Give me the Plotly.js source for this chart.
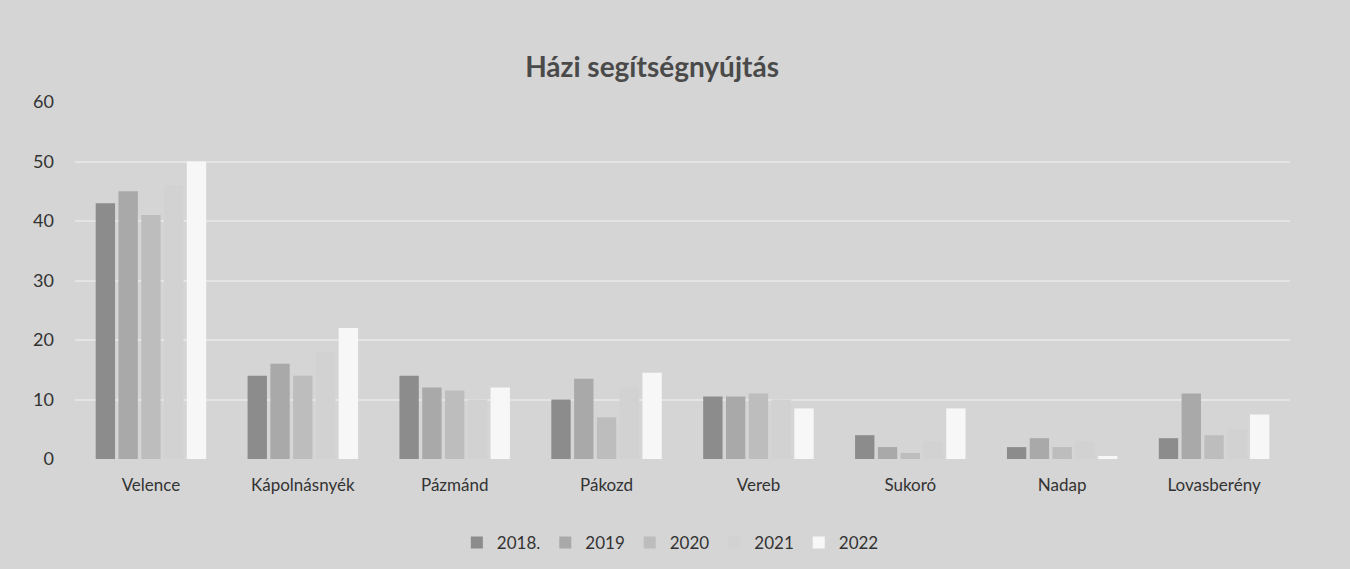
<!DOCTYPE html>
<html>
<head>
<meta charset="utf-8">
<script src="https://cdn.plot.ly/plotly-3.0.1.min.js"></script>
<style>html,body{margin:0;padding:0;background:#d5d5d5;}#chart{width:1350px;height:569px;}</style>
</head>
<body>
<div id="chart"></div>
<script>
const categories = ["Velence", "Kápolnásnyék", "Pázmánd", "Pákozd", "Vereb", "Sukoró", "Nadap", "Lovasberény"];
const seriesNames = ["2018.", "2019", "2020", "2021", "2022"];
const v2018 = [43, 14, 14, 10, 10.5, 4, 2, 3.5];
const v2019 = [45, 16, 12, 13.5, 10.5, 2, 3.5, 11];
const v2020 = [41, 14, 11.5, 7, 11, 1, 2, 4];
const v2021 = [46, 18, 10, 12, 10, 3, 3, 5];
const v2022 = [50, 22, 12, 14.5, 8.5, 8.5, 0.5, 7.5];
const colors = ["#8c8c8c", "#a9a9a9", "#bdbdbd", "#d2d2d2", "#f7f7f7"];

const values = [v2018, v2019, v2020, v2021, v2022];
const traces = values.map((v, i) => ({
  type: "bar",
  name: seriesNames[i],
  x: categories,
  y: v,
  marker: {color: colors[i]},
  hoverinfo: "x+y+name"
}));

const layout = {
  width: 1350,
  height: 569,
  paper_bgcolor: "#d5d5d5",
  plot_bgcolor: "#d5d5d5",
  margin: {l: 75, r: 60, t: 102, b: 110},
  barmode: "group",
  bargap: 0.25,
  bargroupgap: 0.15,
  font: {family: "Lato, 'Open Sans', sans-serif", color: "#3a3a3a"},
  title: {
    text: "<b>Házi segítségnyújtás</b>",
    font: {size: 28, color: "#4a4a4a", family: "Lato, 'Open Sans', sans-serif"},
    x: 0.483, xanchor: "center",
    y: 1 - 67/569, yref: "container", yanchor: "middle"
  },
  xaxis: {
    showgrid: false,
    zeroline: false,
    showline: false,
    ticks: "",
    tickfont: {size: 17, color: "#333"},
    ticklabelstandoff: 14
  },
  yaxis: {
    range: [0, 60],
    dtick: 10,
    tick0: 0,
    gridcolor: "#e4e4e4",
    gridwidth: 1.5,
    zeroline: false,
    showline: false,
    ticks: "",
    tickfont: {size: 18, color: "#333"},
    ticklabelstandoff: 20
  },
  showlegend: true,
  legend: {
    orientation: "h",
    x: 0.49, xanchor: "center",
    y: 1 - 543/569, yref: "container", yanchor: "middle",
    font: {size: 17, color: "#333"},
    bgcolor: "rgba(0,0,0,0)",
    traceorder: "normal",
    itemwidth: 30
  }
};

Plotly.newPlot("chart", traces, layout, {displayModeBar: false, responsive: false});
</script>
</body>
</html>
